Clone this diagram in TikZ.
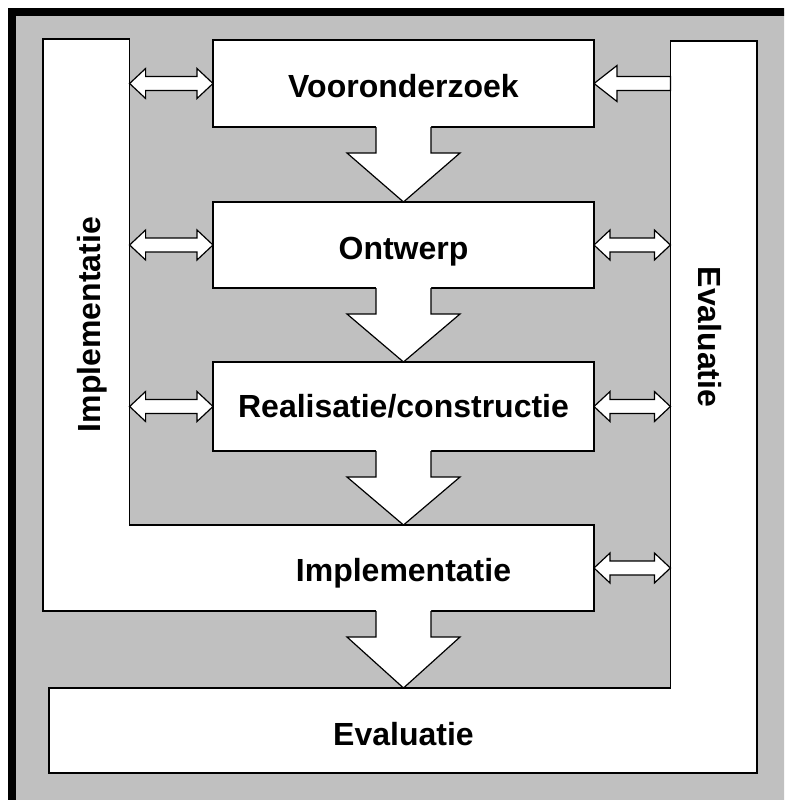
\documentclass[tikz,border=0pt]{standalone}
\usepackage{fontspec}
\setmainfont{Liberation Sans}
\usetikzlibrary{calc}
\definecolor{panelgray}{RGB}{192,192,192}

% broad two-headed arrow between two points on one horizontal line
\newcommand\twoway[2]{%
  \draw[flowshape] (#1) -- ($(#1)+(16,-15)$) -- ($(#1)+(16,-7)$)
    -- ($(#2)+(-16,-7)$) -- ($(#2)+(-16,-15)$) -- (#2)
    -- ($(#2)+(-16,15)$) -- ($(#2)+(-16,7)$)
    -- ($(#1)+(16,7)$) -- ($(#1)+(16,15)$) -- cycle;}

% broad one-headed arrow pointing from #1 (right) to #2 (left)
\newcommand\leftflow[2]{%
  \draw[flowshape] (#2) -- ($(#2)+(23,-18)$) -- ($(#2)+(23,-7)$)
    -- ($(#1)+(0,-7)$) -- ($(#1)+(0,7)$)
    -- ($(#2)+(23,7)$) -- ($(#2)+(23,18)$) -- cycle;}

% big downward arrow from a box bottom (#1) to the tip (#2)
\newcommand\downflow[2]{%
  \path[fill=white] ($(#1)+(-27.5,-1)$) -- ($(#1)+(-27.5,26)$) -- ($(#1)+(-56.5,26)$)
    -- (#2) -- ($(#1)+(56.5,26)$) -- ($(#1)+(27.5,26)$) -- ($(#1)+(27.5,-1)$) -- cycle;
  \draw[outline] ($(#1)+(-27.5,0)$) -- ($(#1)+(-27.5,26)$) -- ($(#1)+(-56.5,26)$)
    -- (#2) -- ($(#1)+(56.5,26)$) -- ($(#1)+(27.5,26)$) -- ($(#1)+(27.5,0)$);}

\begin{document}
\begin{tikzpicture}[x=1pt,y=-1pt,
  outline/.style={draw=black, line width=1.2pt, line join=miter},
  panel/.style={outline, fill=white},
  flowshape/.style={draw=black, fill=white, line width=1.2pt, line join=miter},
  stage/.style={panel, rectangle, inner sep=0pt, outer sep=0pt, minimum width=381},
  lbl/.style={font=\bfseries\fontsize{32}{32}\selectfont, inner sep=0pt, anchor=base}]
\useasboundingbox (0,0) rectangle (784,800);
\clip (0,0) rectangle (784,800);
\fill[white] (0,0) rectangle (784,800);

% frame
\draw[line width=8pt, fill=panelgray] (12,12) rectangle (840,840);

% L-shaped bands
\draw[panel] (43,39) -- (129.6,39) -- (129.6,525) -- (594,525) -- (594,611) -- (43,611) -- cycle;
\draw[panel] (670.4,41) -- (757,41) -- (757,773) -- (49,773) -- (49,688) -- (670.4,688) -- cycle;
\coordinate (implR) at (129.6,0);
\coordinate (evalL) at (670.4,0);
\coordinate (implE) at (594,568);
\coordinate (implTop) at (403.5,525);
\coordinate (implBot) at (403.5,611);
\coordinate (evalTop) at (403.5,688);

% stage boxes
\node[stage, minimum height=87] (voor) at (403.5,83.5) {};
\node[stage, minimum height=86] (ontw) at (403.5,245) {};
\node[stage, minimum height=89] (real) at (403.5,406.5) {};

% main flow
\downflow{voor.south}{ontw.north}
\downflow{ontw.south}{real.north}
\downflow{real.south}{implTop}
\downflow{implBot}{evalTop}

% exchange with the side bands
\twoway{voor.west -| implR}{voor.west}
\twoway{ontw.west -| implR}{ontw.west}
\twoway{real.west -| implR}{real.west}
\leftflow{voor.east -| evalL}{voor.east}
\twoway{ontw.east}{ontw.east -| evalL}
\twoway{real.east}{real.east -| evalL}
\twoway{implE}{implE -| evalL}

% labels
\node[lbl] (voorT) at (403.5,97.3) {Vooronderzoek};
\node[lbl] (ontwT) at (403.5,259) {Ontwerp};
\node[lbl] (realT) at (403.5,417.7) {Realisatie/constructie};
\node[lbl] (implT) at (403.5,581.7) {Implementatie};
\node[lbl] (evalT) at (403.5,745) {Evaluatie};
\node[lbl, rotate=90] (implV) at (100,324.5) {Implementatie};
\node[lbl, rotate=-90] (evalV) at (698,337) {Evaluatie};
\end{tikzpicture}
\end{document}
